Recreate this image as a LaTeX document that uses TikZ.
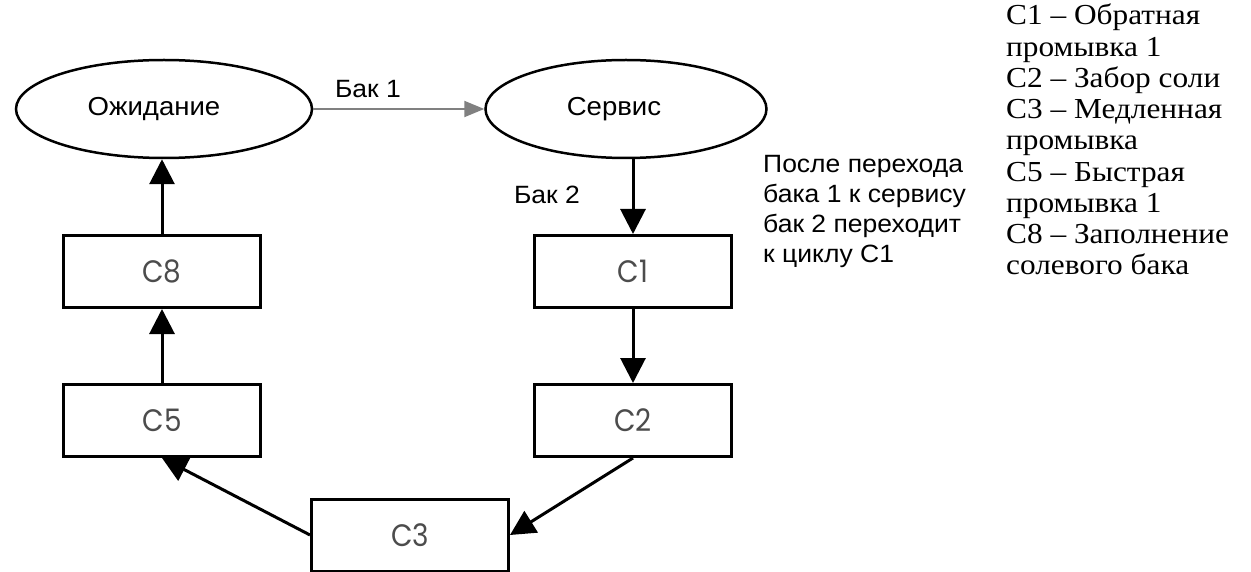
\documentclass[tikz,border=0pt]{standalone}
\usepackage{fontspec}
\usetikzlibrary{shapes.geometric,arrows.meta}
\newfontfamily\arialf[FakeStretch=1.06]{Liberation Sans}
\newfontfamily\timesf[FakeStretch=1.08]{Liberation Serif}
\newfontfamily\boxf[FakeStretch=0.9]{Poppins}
\begin{document}
\begin{tikzpicture}[x=1pt,y=-1pt,
 stage/.style={draw=black,line width=2.5pt,ellipse,inner sep=0pt,minimum height=98pt,font=\arialf\fontsize{26}{30}\selectfont},
 cycbox/.style={draw=black,line width=3pt,minimum width=197pt,minimum height=72pt,inner sep=0pt,font=\boxf\fontsize{31}{32}\selectfont,text=black!70},
 flow/.style={draw=black,line width=3pt,-{Triangle[length=25pt,width=25pt]}},
 grayflow/.style={draw=black!50,line width=2pt,-{Triangle[length=20pt,width=16pt]}},
 lbl/.style={font=\arialf\fontsize{25}{30}\selectfont,inner sep=0pt,align=left},
 legend/.style={font=\timesf\fontsize{29}{31.25}\selectfont,inner sep=0pt,align=left},
]
\useasboundingbox[fill=white] (0,0) rectangle (1251,572);

\node[stage,minimum width=296pt] (wait) at (164,109) {Ожидание\hspace*{20pt}};
\node[stage,minimum width=281pt] (serv) at (626,109) {Сервис\hspace*{24pt}};

\node[cycbox] (c8) at (162,271.5) {C8};
\node[cycbox] (c5) at (162,420.5) {C5};
\node[cycbox] (c1) at (633,271.5) {C1};
\node[cycbox] (c2) at (633,420.5) {C2};
\node[cycbox] (c3) at (410,535) {C3};

\node[lbl] (bak1) at (368,89) {Бак 1};
\node[lbl] (bak2) at (547,195) {Бак 2};
\node[lbl,anchor=north west] (note) at (763,155) {После перехода\\бака 1 к сервису\\бак 2 переходит\\к циклу C1};

\node[legend,anchor=north west] (leg) at (1006,4) {C1 – Обратная\\промывка 1\\C2 – Забор соли\\C3 – Медленная\\промывка\\C5 – Быстрая\\промывка 1\\C8 – Заполнение\\солевого бака};

\draw[grayflow] (wait) -- (serv);
\draw[flow] (c1.north |- serv.south) -- (c1.north);
\draw[flow] (c1) -- (c2);
\draw[flow] (c2.south) -- (c3.east);
\draw[flow] (c3.west) -- (c5.south);
\draw[flow] (c5) -- (c8);
\draw[flow] (c8.north) -- (c8.north |- wait.south);
\end{tikzpicture}
\end{document}
